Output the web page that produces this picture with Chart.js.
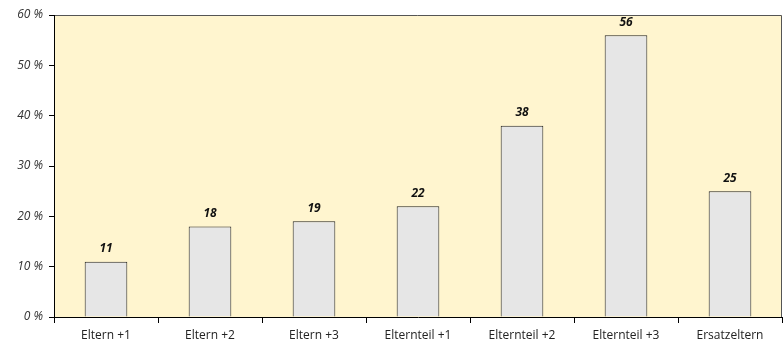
<!DOCTYPE html>
<html>
<head>
<meta charset="utf-8">
<script src="https://cdn.jsdelivr.net/npm/chart.js@4/dist/chart.umd.min.js"></script>
<style>
  html, body { margin: 0; padding: 0; background: #fff; }
  #wrap { width: 784px; height: 347px; }
</style>
</head>
<body>
<div id="wrap"><canvas id="chart" width="784" height="347"></canvas></div>
<script>
// Kategorien und Werte (Prozent)
const categories = ["Eltern +1", "Eltern +2", "Eltern +3", "Elternteil +1", "Elternteil +2", "Elternteil +3", "Ersatzeltern"];
const values = [11, 18, 19, 22, 38, 56, 25];
const yTicks = [0, 10, 20, 30, 40, 50, 60];

const FONT = "'Open Sans', 'DejaVu Sans', sans-serif";

// Hintergrund der Zeichenfläche plus grauer Rahmen oben/rechts
const plotBackground = {
  id: "plotBackground",
  beforeDraw(chart) {
    const { ctx, chartArea: a } = chart;
    ctx.save();
    ctx.fillStyle = "#fff5cf";
    ctx.fillRect(a.left, a.top, a.right - a.left, a.bottom - a.top);
    ctx.strokeStyle = "#555";
    ctx.lineWidth = 1;
    ctx.beginPath();
    ctx.moveTo(a.left, a.top + 0.5);
    ctx.lineTo(a.right - 0.5, a.top + 0.5);
    ctx.lineTo(a.right - 0.5, a.bottom);
    ctx.stroke();
    ctx.restore();
  }
};

// Wertbeschriftung über den Balken
const valueLabels = {
  id: "valueLabels",
  afterDatasetsDraw(chart) {
    const { ctx } = chart;
    const meta = chart.getDatasetMeta(0);
    ctx.save();
    ctx.font = "italic bold 12px " + FONT;
    ctx.fillStyle = "#111";
    ctx.textAlign = "center";
    ctx.textBaseline = "bottom";
    meta.data.forEach((bar, i) => {
      ctx.fillText(String(values[i]), bar.x, bar.y - 7);
    });
    ctx.restore();
  }
};

new Chart(document.getElementById("chart"), {
  type: "bar",
  data: {
    labels: categories,
    datasets: [{
      data: values,
      backgroundColor: "#e6e6e6",
      borderColor: "#222",
      borderWidth: 1,
      borderSkipped: "bottom",
      categoryPercentage: 1,
      barPercentage: 0.41
    }]
  },
  options: {
    responsive: false,
    animation: false,
    layout: { padding: { top: 15, right: 2, left: 0, bottom: 0 } },
    plugins: { legend: { display: false }, tooltip: { enabled: false } },
    scales: {
      x: {
        grid: { offset: true, drawOnChartArea: false, tickLength: 6, color: "#000" },
        border: { color: "#000", width: 1 },
        ticks: { color: "#222", font: { family: FONT, size: 12 }, padding: 5, maxRotation: 0 },
        afterFit(s) { s.height = 30; }
      },
      y: {
        min: 0,
        max: 60,
        afterBuildTicks(s) { s.ticks = yTicks.map(v => ({ value: v })); },
        grid: { drawOnChartArea: false, tickLength: 5, color: "#000" },
        border: { color: "#000", width: 1 },
        ticks: {
          color: "#333",
          font: { family: FONT, size: 12, style: "italic" },
          padding: 6,
          callback: v => v + " %"
        },
        afterFit(s) { s.width = 54; }
      }
    }
  },
  plugins: [plotBackground, valueLabels]
});
</script>
</body>
</html>
